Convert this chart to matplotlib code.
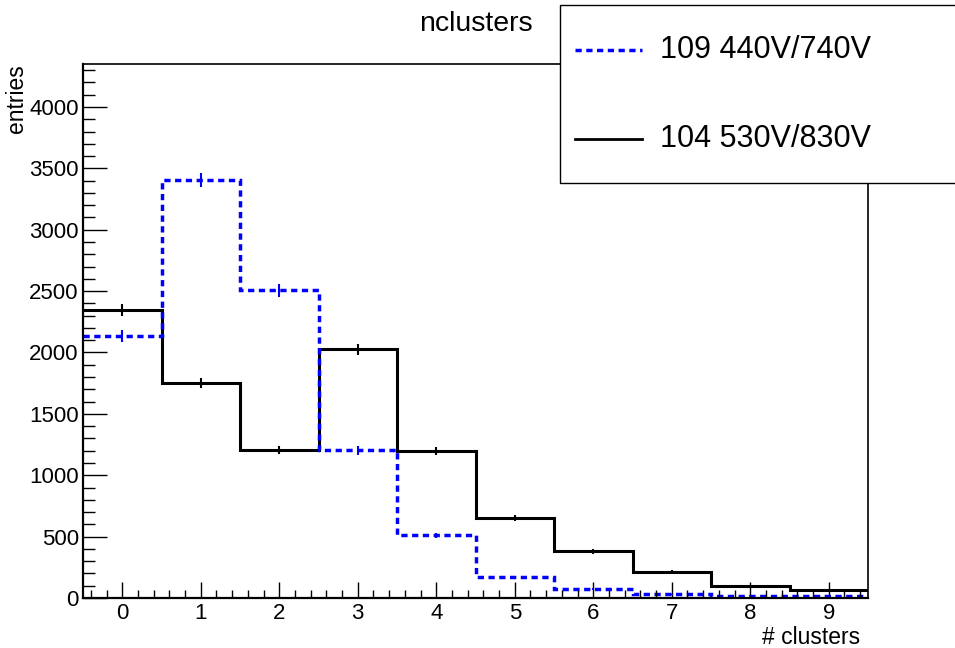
import numpy as np
import matplotlib
matplotlib.use('Agg')
import matplotlib.pyplot as plt
from matplotlib.ticker import MultipleLocator
from matplotlib.patches import Rectangle
from matplotlib.lines import Line2D

plt.rcParams['font.family'] = ['Liberation Sans', 'DejaVu Sans']

# bin contents
bin_edges = np.arange(-0.5, 10.5, 1.0)
n_109 = [2134, 3405, 2505, 1203, 510, 168, 70, 30, 19, 14]   # 109 440V/740V
n_104 = [2346, 1750, 1205, 2025, 1198, 650, 380, 212, 96, 68]  # 104 530V/830V
labels = ['109 440V/740V', '104 530V/830V']

fig = plt.figure(figsize=(9.55, 6.48), dpi=100)
ax = fig.add_axes([83/955, 1-598/648, 785/955, 534/648])

centers = 0.5*(bin_edges[:-1] + bin_edges[1:])

ax.stairs(n_104, bin_edges, baseline=None, color='black', lw=2.2)
ax.errorbar(centers, n_104, yerr=np.sqrt(n_104), fmt='none', ecolor='black', elinewidth=1.5)

ax.stairs(n_109, bin_edges, baseline=None, color='#0000ff', lw=2.5, linestyle=(0, (1.8, 1.3)))
ax.errorbar(centers, n_109, yerr=np.sqrt(n_109), fmt='none', ecolor='#0000ff', elinewidth=1.5)

ax.set_xlim(-0.5, 9.5)
ax.set_ylim(0, 4350)

ax.xaxis.set_major_locator(MultipleLocator(1))
ax.xaxis.set_minor_locator(MultipleLocator(0.2))
ax.yaxis.set_major_locator(MultipleLocator(500))
ax.yaxis.set_minor_locator(MultipleLocator(100))
ax.tick_params(axis='both', which='both', direction='in', width=1.0, labelsize=16)
ax.tick_params(axis='x', which='major', length=11.5, pad=3.5)
ax.tick_params(axis='x', which='minor', length=5.8)
ax.tick_params(axis='y', which='major', length=17, pad=3)
ax.tick_params(axis='y', which='minor', length=8.6)

for s in ['left', 'bottom']:
    ax.spines[s].set_linewidth(1.6)
for s in ['top', 'right']:
    ax.spines[s].set_linewidth(1.2)

ax.set_title('nclusters', fontsize=20.5, pad=24)

ax.set_xlabel('# clusters', fontsize=16.5)
ax.xaxis.label.set(ha='right', va='center', rotation_mode='default')
ax.xaxis.set_label_coords(777/785, -40/534)

# nudged a little left of the ROOT spot so it does not sit on the 4000 label
ax.set_ylabel('entries', fontsize=16.5)
ax.yaxis.label.set(ha='center', va='top', rotation_mode='default')
ax.yaxis.set_label_coords(-67/785, 1.0)

# legend box (ROOT TLegend style)
fig.patches.append(Rectangle((560/955, 1-183/648), 0.6, 178/648, transform=fig.transFigure,
                             facecolor='white', edgecolor='black', lw=1.0, zorder=5))
styles = [dict(color='#0000ff', lw=2.5, linestyle=(0, (1.8, 1.3))), dict(color='black', lw=2.0)]
for i, (lab, st) in enumerate(zip(labels, styles)):
    yy = 1 - (50 + 89*i)/648
    fig.add_artist(Line2D([575/955, 642/955], [yy, yy], transform=fig.transFigure, zorder=6, **st))
    fig.text(660/955, yy, lab, fontsize=22, va='center', ha='left', zorder=6)

fig.savefig('out.png', dpi=100)
